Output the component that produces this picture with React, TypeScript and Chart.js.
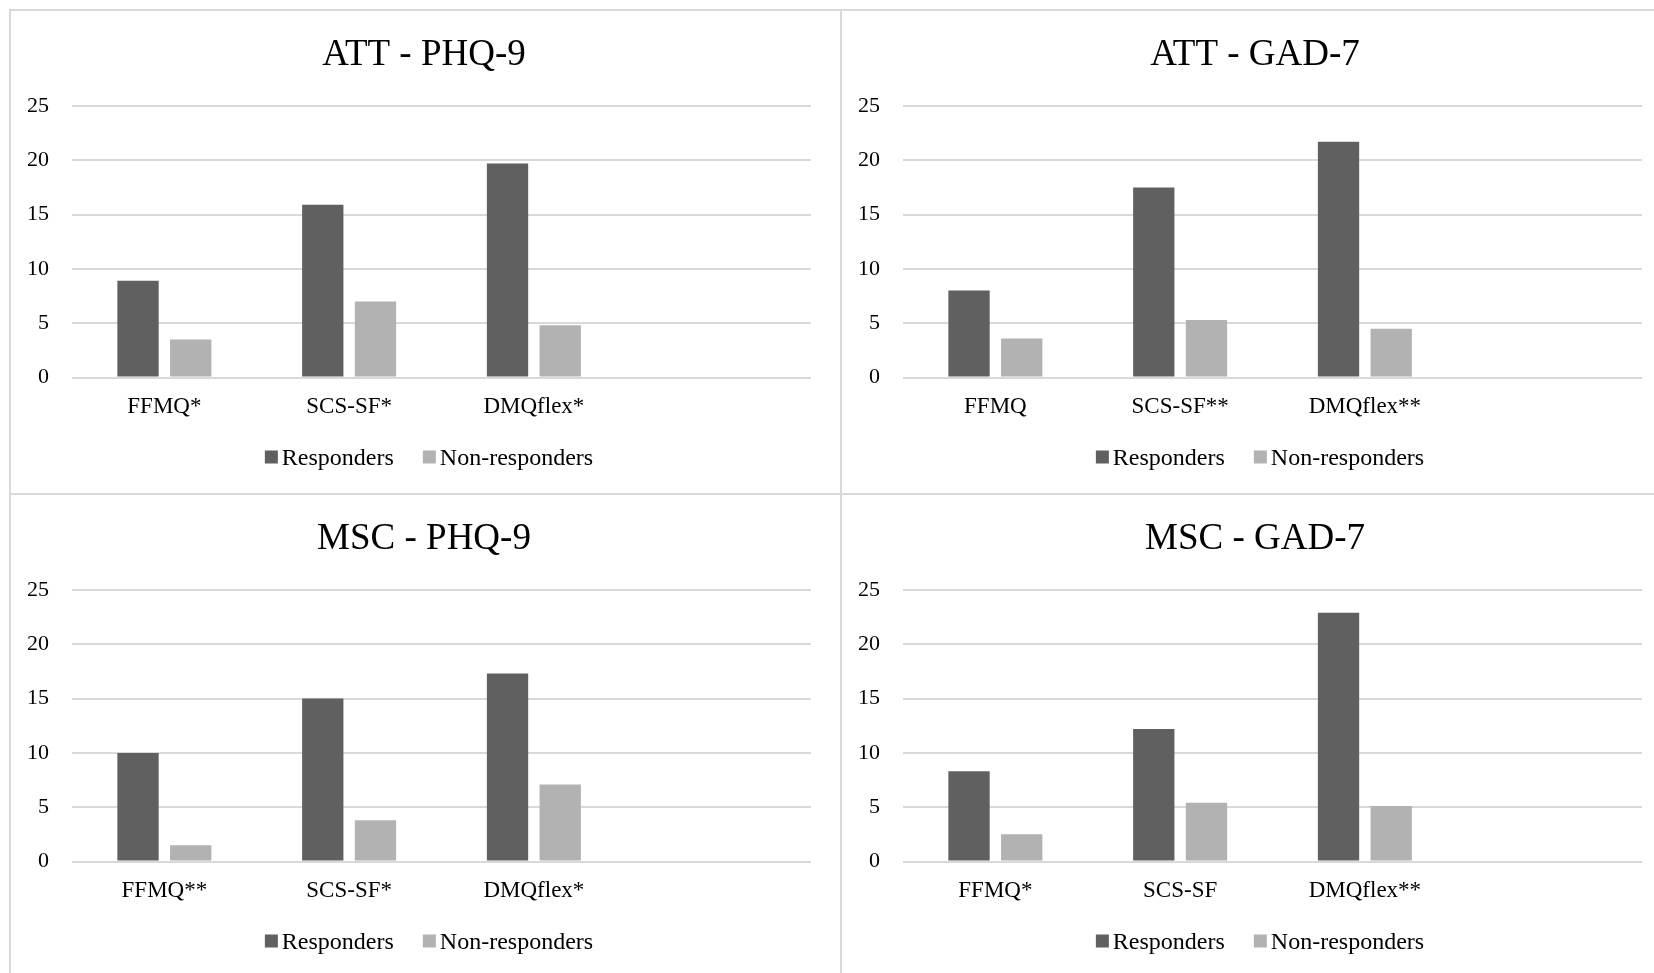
import React, { useEffect, useRef } from 'react';
import { Chart, registerables } from 'chart.js';

Chart.register(...registerables);

const FONT = "'Liberation Serif', 'Times New Roman', serif";

const seriesNames = ['Responders', 'Non-responders'];
const seriesColors = ['#606060', '#b2b2b2'];
const yTickValues = [0, 5, 10, 15, 20, 25];

const titleAttPhq = 'ATT - PHQ-9';
const categoriesAttPhq = ['FFMQ*', 'SCS-SF*', 'DMQflex*', ''];
const respondersAttPhq = [8.9, 15.9, 19.7, null];
const nonRespondersAttPhq = [3.5, 7.0, 4.8, null];

const titleAttGad = 'ATT - GAD-7';
const categoriesAttGad = ['FFMQ', 'SCS-SF**', 'DMQflex**', ''];
const respondersAttGad = [8.0, 17.5, 21.7, null];
const nonRespondersAttGad = [3.6, 5.3, 4.5, null];

const titleMscPhq = 'MSC - PHQ-9';
const categoriesMscPhq = ['FFMQ**', 'SCS-SF*', 'DMQflex*', ''];
const respondersMscPhq = [10.0, 15.0, 17.3, null];
const nonRespondersMscPhq = [1.5, 3.8, 7.1, null];

const titleMscGad = 'MSC - GAD-7';
const categoriesMscGad = ['FFMQ*', 'SCS-SF', 'DMQflex**', ''];
const respondersMscGad = [8.3, 12.2, 22.9, null];
const nonRespondersMscGad = [2.5, 5.4, 5.1, null];

const CANVAS_W = 827;
const CANVAS_H = 479;

const legendPlugin = {
  id: 'bottomLegend',
  afterDraw(chart: any) {
    const { ctx, chartArea } = chart;
    const items = chart.data.datasets.map((ds: any) => ({ text: ds.label, color: ds.backgroundColor }));
    ctx.save();
    ctx.font = `24px ${FONT}`;
    const box = 13;
    const gapBoxText = 4;
    const gapItems = 29;
    const widths = items.map((it: any) => box + gapBoxText + ctx.measureText(it.text).width);
    const total = widths.reduce((a: number, b: number) => a + b, 0) + gapItems * (items.length - 1);
    let x = chart.width / 2 + 3.5 - total / 2;
    const baseline = chartArea.bottom + 87;
    const boxTop = chartArea.bottom + 73;
    items.forEach((it: any, i: number) => {
      ctx.fillStyle = it.color;
      ctx.fillRect(x, boxTop, box, box);
      ctx.fillStyle = '#000';
      ctx.textAlign = 'left';
      ctx.textBaseline = 'alphabetic';
      ctx.fillText(it.text, x + box + gapBoxText, baseline);
      x += widths[i] + gapItems;
    });
    ctx.restore();
  },
};

type PanelProps = {
  title: string;
  categories: string[];
  responders: (number | null)[];
  nonResponders: (number | null)[];
  left: number;
  top: number;
};

function Panel({ title, categories, responders, nonResponders, left, top }: PanelProps) {
  const ref = useRef<HTMLCanvasElement | null>(null);
  useEffect(() => {
    if (!ref.current) return;
    const chart = new Chart(ref.current, {
      type: 'bar',
      data: {
        labels: categories,
        datasets: [
          {
            label: seriesNames[0],
            data: responders,
            backgroundColor: seriesColors[0],
            borderWidth: 0,
            categoryPercentage: 0.5705,
            barPercentage: 0.784,
          },
          {
            label: seriesNames[1],
            data: nonResponders,
            backgroundColor: seriesColors[1],
            borderWidth: 0,
            categoryPercentage: 0.5705,
            barPercentage: 0.784,
          },
        ],
      },
      options: {
        responsive: false,
        animation: false,
        devicePixelRatio: 1,
        layout: { padding: { left: 0, right: 3, top: 0, bottom: 53.5 } },
        plugins: {
          legend: { display: false },
          tooltip: { enabled: false },
          title: {
            display: true,
            text: title,
            color: '#000',
            font: { family: FONT, size: 37, weight: 'normal' },
            padding: { top: 21.5, bottom: 28.1 },
          },
        },
        scales: {
          x: {
            grid: { display: false },
            border: { display: false },
            ticks: { color: '#000', font: { family: FONT, size: 23 }, padding: 8, maxRotation: 0, autoSkip: false },
            afterFit: (scale: any) => {
              scale.height = 60;
            },
          },
          y: {
            min: yTickValues[0],
            max: yTickValues[yTickValues.length - 1],
            grid: { color: '#d9d9d9', lineWidth: 2, drawTicks: false },
            border: { display: false },
            ticks: {
              stepSize: yTickValues[1] - yTickValues[0],
              color: '#000',
              font: { family: FONT, size: 22 },
              padding: 23,
            },
            afterFit: (scale: any) => {
              scale.width = 60;
            },
          },
          yRight: {
            type: 'linear',
            position: 'right',
            display: true,
            grid: { display: false, drawOnChartArea: false, drawTicks: false },
            border: { display: false },
            ticks: { display: false },
            afterFit: (scale: any) => {
              scale.width = 25;
            },
          },
        },
      },
      plugins: [legendPlugin],
    } as any);
    return () => chart.destroy();
  }, []);
  return (
    <canvas
      ref={ref}
      width={CANVAS_W}
      height={CANVAS_H}
      style={{ position: 'absolute', left, top, width: CANVAS_W, height: CANVAS_H }}
    />
  );
}

const lineColor = '#d9d9d9';

export default function App() {
  return (
    <div
      style={{
        position: 'absolute',
        left: 0,
        top: 0,
        width: 1654,
        height: 973,
        overflow: 'hidden',
        background: '#fff',
      }}
    >
      <div style={{ position: 'absolute', left: 9, top: 9, width: 1645, height: 2, background: lineColor }} />
      <div style={{ position: 'absolute', left: 9, top: 9, width: 2, height: 964, background: lineColor }} />
      <div style={{ position: 'absolute', left: 840, top: 9, width: 2, height: 964, background: lineColor }} />
      <div style={{ position: 'absolute', left: 9, top: 493, width: 1645, height: 2, background: lineColor }} />
      <Panel title={titleAttPhq} categories={categoriesAttPhq} responders={respondersAttPhq} nonResponders={nonRespondersAttPhq} left={12} top={12} />
      <Panel title={titleAttGad} categories={categoriesAttGad} responders={respondersAttGad} nonResponders={nonRespondersAttGad} left={843} top={12} />
      <Panel title={titleMscPhq} categories={categoriesMscPhq} responders={respondersMscPhq} nonResponders={nonRespondersMscPhq} left={12} top={496} />
      <Panel title={titleMscGad} categories={categoriesMscGad} responders={respondersMscGad} nonResponders={nonRespondersMscGad} left={843} top={496} />
    </div>
  );
}
